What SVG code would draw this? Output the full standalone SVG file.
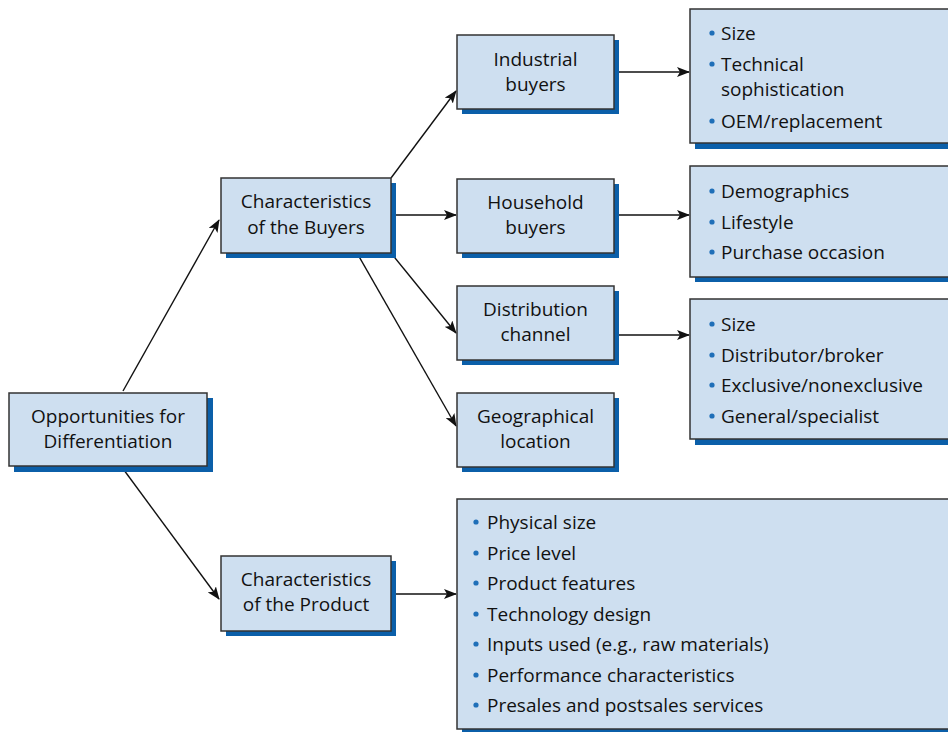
<svg xmlns="http://www.w3.org/2000/svg" width="948" height="732" viewBox="0 0 948 732">
<style>
.box{fill:#cedff0;stroke:#333;stroke-width:1.5}
.sh{fill:#0b5fa9}
.t{font-family:"Open Sans","Noto Sans",sans-serif;font-size:19px;fill:#111}
.c{text-anchor:middle}
.b{fill:#1f6fb8}
.con{stroke:#111;stroke-width:1.4;fill:none;marker-end:url(#ah)}
</style>
<defs>
<marker id="ah" markerWidth="14" markerHeight="10" refX="12" refY="5" orient="auto" markerUnits="userSpaceOnUse">
<path d="M0,0 L13,5 L0,10 L3,5 Z" fill="#111"/>
</marker>
</defs>
<rect width="948" height="732" fill="#fff"/>
<g id="connectors">
<line class="con" x1="123" y1="391" x2="219" y2="220"/>
<line class="con" x1="121" y1="466" x2="219" y2="599"/>
<line class="con" x1="391" y1="178" x2="456" y2="91"/>
<line class="con" x1="391" y1="215" x2="456" y2="215"/>
<line class="con" x1="391" y1="253" x2="456" y2="333"/>
<line class="con" x1="357" y1="253" x2="456" y2="426"/>
<line class="con" x1="614" y1="72" x2="689" y2="72"/>
<line class="con" x1="614" y1="215" x2="689" y2="215"/>
<line class="con" x1="614" y1="335" x2="689" y2="335"/>
<line class="con" x1="391" y1="594" x2="456" y2="594"/>
</g>
<g id="opportunities">
<rect class="sh" x="14" y="398" width="199" height="74"/>
<rect class="box" x="9" y="393" width="198" height="73"/>
<text class="t c" x="108" y="423">Opportunities for</text>
<text class="t c" x="108" y="448">Differentiation</text>
</g>
<g id="buyers">
<rect class="sh" x="226" y="183" width="170" height="75"/>
<rect class="box" x="221" y="178" width="170" height="75"/>
<text class="t c" x="306" y="208">Characteristics</text>
<text class="t c" x="306" y="234">of the Buyers</text>
</g>
<g id="product">
<rect class="sh" x="226" y="561" width="170" height="75"/>
<rect class="box" x="221" y="556" width="170" height="75"/>
<text class="t c" x="306" y="586">Characteristics</text>
<text class="t c" x="306" y="611">of the Product</text>
</g>
<g id="industrial">
<rect class="sh" x="462" y="40" width="157" height="74"/>
<rect class="box" x="457" y="35" width="157" height="74"/>
<text class="t c" x="535.5" y="66">Industrial</text>
<text class="t c" x="535.5" y="91">buyers</text>
</g>
<g id="household">
<rect class="sh" x="462" y="184" width="157" height="74"/>
<rect class="box" x="457" y="179" width="157" height="74"/>
<text class="t c" x="535.5" y="209">Household</text>
<text class="t c" x="535.5" y="234">buyers</text>
</g>
<g id="distribution">
<rect class="sh" x="462" y="291" width="157" height="74"/>
<rect class="box" x="457" y="286" width="157" height="74"/>
<text class="t c" x="535.5" y="316">Distribution</text>
<text class="t c" x="535.5" y="341">channel</text>
</g>
<g id="geographical">
<rect class="sh" x="462" y="398" width="157" height="74"/>
<rect class="box" x="457" y="393" width="157" height="74"/>
<text class="t c" x="535.5" y="423">Geographical</text>
<text class="t c" x="535.5" y="448">location</text>
</g>
<g id="industrial-list">
<rect class="sh" x="695" y="14" width="260" height="135"/>
<rect class="box" x="690" y="9" width="265" height="134"/>
<circle class="b" cx="712" cy="33" r="2.6"/><text class="t" x="721" y="40">Size</text>
<circle class="b" cx="712" cy="64" r="2.6"/><text class="t" x="721" y="71">Technical</text>
<text class="t" x="721" y="96">sophistication</text>
<circle class="b" cx="712" cy="121" r="2.6"/><text class="t" x="721" y="128">OEM/replacement</text>
</g>
<g id="household-list">
<rect class="sh" x="695" y="171" width="260" height="111"/>
<rect class="box" x="690" y="166" width="265" height="111"/>
<circle class="b" cx="712" cy="191" r="2.6"/><text class="t" x="721" y="198">Demographics</text>
<circle class="b" cx="712" cy="222" r="2.6"/><text class="t" x="721" y="229">Lifestyle</text>
<circle class="b" cx="712" cy="252" r="2.6"/><text class="t" x="721" y="259">Purchase occasion</text>
</g>
<g id="distribution-list">
<rect class="sh" x="695" y="304" width="260" height="141"/>
<rect class="box" x="690" y="299" width="265" height="140"/>
<circle class="b" cx="712" cy="324" r="2.6"/><text class="t" x="721" y="331">Size</text>
<circle class="b" cx="712" cy="355" r="2.6"/><text class="t" x="721" y="362">Distributor/broker</text>
<circle class="b" cx="712" cy="385" r="2.6"/><text class="t" x="721" y="392">Exclusive/nonexclusive</text>
<circle class="b" cx="712" cy="416" r="2.6"/><text class="t" x="721" y="423">General/specialist</text>
</g>
<g id="product-list">
<rect class="sh" x="462" y="504" width="493" height="232"/>
<rect class="box" x="457" y="499" width="498" height="230"/>
<circle class="b" cx="476" cy="522" r="2.6"/><text class="t" x="487" y="529">Physical size</text>
<circle class="b" cx="476" cy="553" r="2.6"/><text class="t" x="487" y="560">Price level</text>
<circle class="b" cx="476" cy="583" r="2.6"/><text class="t" x="487" y="590">Product features</text>
<circle class="b" cx="476" cy="614" r="2.6"/><text class="t" x="487" y="621">Technology design</text>
<circle class="b" cx="476" cy="644" r="2.6"/><text class="t" x="487" y="651">Inputs used (e.g., raw materials)</text>
<circle class="b" cx="476" cy="675" r="2.6"/><text class="t" x="487" y="682">Performance characteristics</text>
<circle class="b" cx="476" cy="705" r="2.6"/><text class="t" x="487" y="712">Presales and postsales services</text>
</g>
</svg>
